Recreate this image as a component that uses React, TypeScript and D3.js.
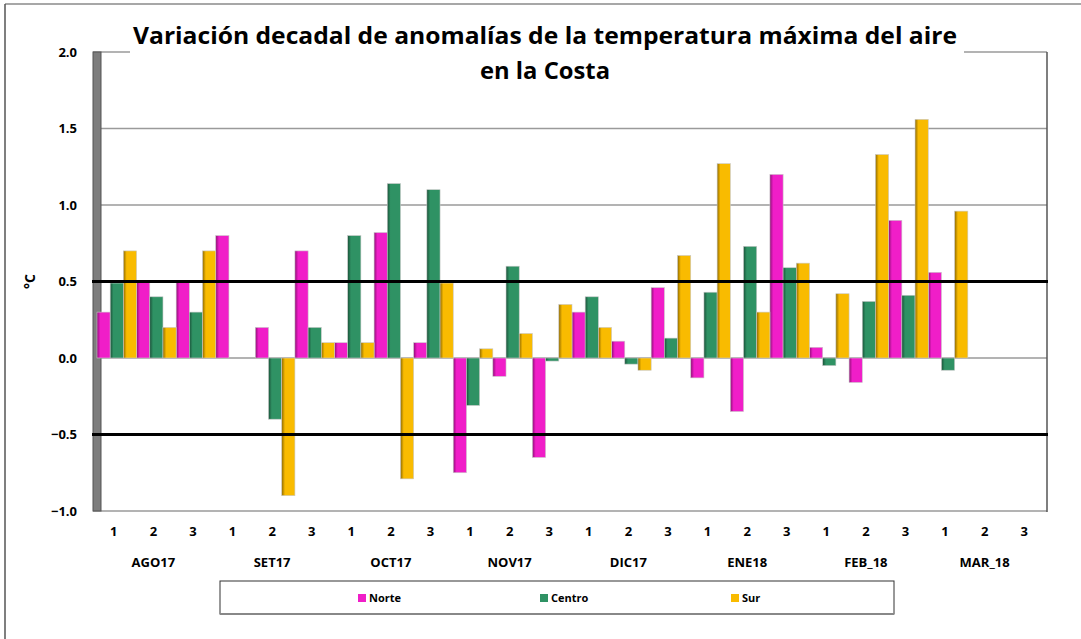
import React from 'react';
import * as d3 from 'd3';

// decadal anomalies (°C), 3 decades per month
const MONTHS = ['AGO17', 'SET17', 'OCT17', 'NOV17', 'DIC17', 'ENE18', 'FEB_18', 'MAR_18'];
const DECADES = ['1', '2', '3'];
const SERIES = ['Norte', 'Centro', 'Sur'];

const NORTE = [0.30, 0.50, 0.50, 0.80, 0.20, 0.70, 0.10, 0.82, 0.10, -0.75, -0.12, -0.65, 0.30, 0.11, 0.46, -0.13, -0.35, 1.20, 0.07, -0.16, 0.90, 0.56, null, null];
const CENTRO = [0.49, 0.40, 0.30, null, -0.40, 0.20, 0.80, 1.14, 1.10, -0.31, 0.60, -0.02, 0.40, -0.04, 0.13, 0.43, 0.73, 0.59, -0.05, 0.37, 0.41, -0.08, null, null];
const SUR = [0.70, 0.20, 0.70, null, -0.90, 0.10, 0.10, -0.79, 0.49, 0.06, 0.16, 0.35, 0.20, -0.08, 0.67, 1.27, 0.30, 0.62, 0.42, 1.33, 1.56, 0.96, null, null];

const Y_TICKS = [2.0, 1.5, 1.0, 0.5, 0.0, -0.5, -1.0];
const THRESHOLDS = [0.5, -0.5];

const COLORS: Record<string, { base: string; dark: string }> = {
  Norte: { base: '#f01ec8', dark: '#8e0f76' },
  Centro: { base: '#2f9264', dark: '#1a5239' },
  Sur: { base: '#f9bb00', dark: '#8f6a00' },
};

const FONT = "'Open Sans', 'Noto Sans', sans-serif";

export default function App() {
  const W = 1081;
  const H = 639;
  const left = 97;
  const right = 1047;
  const top = 52;
  const bottom = 511;

  const cats = d3.range(MONTHS.length * DECADES.length);
  const values: Record<string, (number | null)[]> = { Norte: NORTE, Centro: CENTRO, Sur: SUR };

  const x = d3.scaleBand<number>().domain(cats).range([left, right]).padding(0);
  const xs = d3.scaleBand<string>().domain(SERIES).range([0, x.bandwidth()]).padding(0);
  const y = d3.scaleLinear().domain([-1, 2]).range([bottom, top]);

  const labelShift = -3;

  return (
    <div style={{ position: 'fixed', left: 0, top: 0 }}>
      <svg width={W} height={H} style={{ display: 'block', background: '#fff' }}>
        <defs>
          {SERIES.map((s) => (
            <linearGradient key={s} id={`g-${s}`} x1="0" x2="1" y1="0" y2="0">
              <stop offset="0%" stopColor={COLORS[s].dark} />
              <stop offset="25%" stopColor={COLORS[s].base} />
              <stop offset="100%" stopColor={COLORS[s].base} />
            </linearGradient>
          ))}
        </defs>

        {/* outer chart border */}
        <line x1={5} x2={W} y1={4} y2={4} stroke="#8a8a8a" strokeWidth={1.5} />
        <line x1={5} x2={5} y1={4} y2={H} stroke="#555" strokeWidth={1.5} />

        {/* gridlines */}
        {Y_TICKS.map((t) => (
          <line key={t} x1={93} x2={right} y1={y(t)} y2={y(t)} stroke="#9a9a9a" strokeWidth={1.5} />
        ))}
        {/* plot right edge */}
        <line x1={right} x2={right} y1={top} y2={bottom + 1} stroke="#555" strokeWidth={1.5} />

        {/* 3d wall on the left */}
        <rect x={93} y={top} width={8} height={bottom - top} fill="#7d7d7d" stroke="#555" strokeWidth={1} />

        {/* bars */}
        {SERIES.map((s) =>
          values[s].map((v, i) =>
            v == null ? null : (
              <rect
                key={`${s}-${i}`}
                x={(x(i) as number) + (xs(s) as number)}
                y={y(Math.max(0, v))}
                width={xs.bandwidth()}
                height={Math.abs(y(v) - y(0))}
                fill={`url(#g-${s})`}
                stroke="#c8c8c8"
                strokeWidth={0.6}
              />
            )
          )
        )}

        {/* threshold lines */}
        {THRESHOLDS.map((t) => (
          <line key={t} x1={92} x2={right + 1} y1={y(t)} y2={y(t)} stroke="#000" strokeWidth={3} />
        ))}

        {/* y axis labels */}
        {Y_TICKS.map((t) => (
          <text
            key={t}
            x={77}
            y={y(t)}
            dy="0.35em"
            textAnchor="end"
            fontFamily={FONT}
            fontWeight="bold"
            fontSize={13}
            fill="#000"
          >
            {d3.format('.1f')(t)}
          </text>
        ))}
        <text
          transform={`translate(35,${y(0.5)}) rotate(-90)`}
          textAnchor="middle"
          fontFamily={FONT}
          fontWeight="bold"
          fontSize={14}
        >
          °C
        </text>

        {/* x axis labels */}
        {cats.map((i) => (
          <text
            key={i}
            x={(x(i) as number) + x.bandwidth() / 2 + labelShift}
            y={531}
            dy="0.35em"
            textAnchor="middle"
            fontFamily={FONT}
            fontWeight="bold"
            fontSize={13}
          >
            {DECADES[i % 3]}
          </text>
        ))}
        {MONTHS.map((m, j) => (
          <text
            key={m}
            x={(x(j * 3) as number) + x.bandwidth() * 1.5 + labelShift}
            y={562}
            dy="0.35em"
            textAnchor="middle"
            fontFamily={FONT}
            fontWeight="bold"
            fontSize={13}
          >
            {m}
          </text>
        ))}

        {/* title */}
        <rect x={130} y={12} width={834} height={80} fill="#fff" />
        <text
          x={545}
          y={44}
          textAnchor="middle"
          fontFamily={FONT}
          fontWeight="bold"
          fontSize={24}
          textLength={824}
          lengthAdjust="spacingAndGlyphs"
        >
          Variación decadal de anomalías de la temperatura máxima del aire
        </text>
        <text
          x={545}
          y={79}
          textAnchor="middle"
          fontFamily={FONT}
          fontWeight="bold"
          fontSize={24}
          textLength={130}
          lengthAdjust="spacingAndGlyphs"
        >
          en la Costa
        </text>

        {/* legend */}
        <rect x={220} y={581} width={674} height={33} fill="#fff" stroke="#333" strokeWidth={1} />
        <line x1={220} x2={894} y1={614} y2={614} stroke="#888" strokeWidth={2} />
        {SERIES.map((s, i) => {
          const lx = [358, 540, 731][i];
          return (
            <g key={s}>
              <rect x={lx} y={594} width={8} height={8} fill={COLORS[s].base} />
              <text x={lx + 11} y={598} dy="0.35em" fontFamily={FONT} fontWeight="bold" fontSize={11}>
                {s}
              </text>
            </g>
          );
        })}
      </svg>
    </div>
  );
}
